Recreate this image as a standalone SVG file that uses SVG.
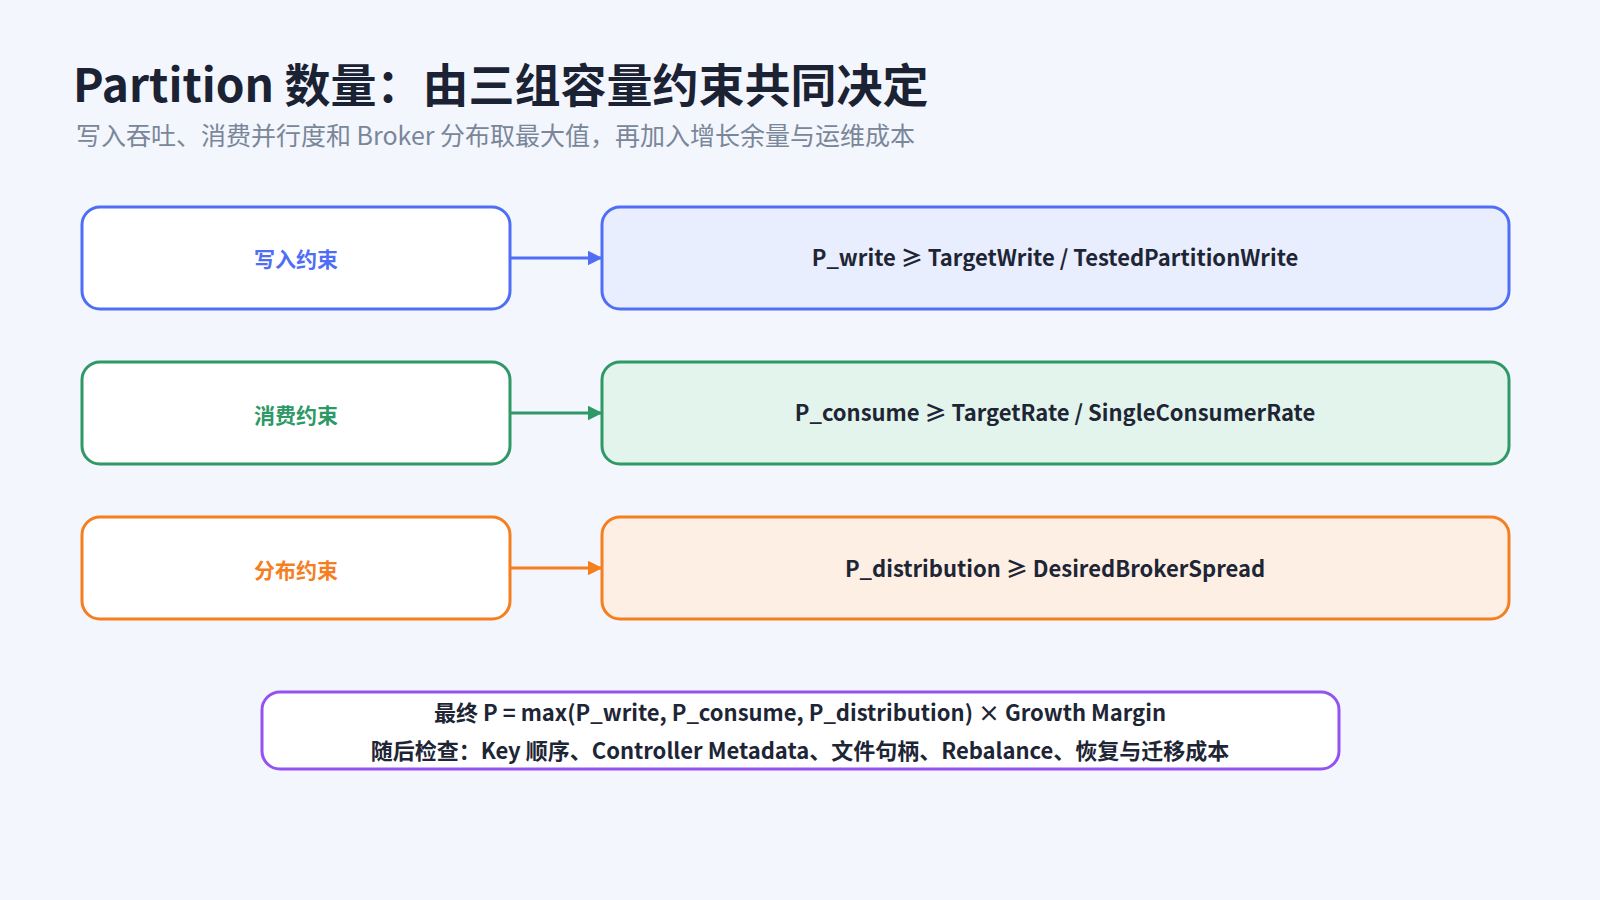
<svg xmlns="http://www.w3.org/2000/svg" width="1600" height="900" viewBox="0 0 1600 900">
<style>
.t{font-family:"Noto Sans CJK SC","Noto Sans",sans-serif}
.lbl{font-size:21px;font-weight:bold;text-anchor:middle}
.f{font-size:22px;font-weight:bold;fill:#1e2535;text-anchor:middle}
.ln{stroke-width:3}
</style>
<defs>
<marker id="ab" viewBox="0 0 10 10" refX="9" refY="5" markerWidth="5" markerHeight="5" orient="auto"><path d="M0,0L10,5L0,10z" fill="#4f6ef5"/></marker>
<marker id="ag" viewBox="0 0 10 10" refX="9" refY="5" markerWidth="5" markerHeight="5" orient="auto"><path d="M0,0L10,5L0,10z" fill="#2e9866"/></marker>
<marker id="ao" viewBox="0 0 10 10" refX="9" refY="5" markerWidth="5" markerHeight="5" orient="auto"><path d="M0,0L10,5L0,10z" fill="#f57e1f"/></marker>
</defs>
<rect width="1600" height="900" fill="#f3f6fd"/>
<text class="t" x="73" y="102" font-size="46" font-weight="bold" fill="#1a2233">Partition 数量：由三组容量约束共同决定</text>
<text class="t" x="76" y="145" font-size="25" fill="#7a8699">写入吞吐、消费并行度和 Broker 分布取最大值，再加入增长余量与运维成本</text>
<g id="connectors">
<line x1="510" y1="258" x2="601" y2="258" stroke="#4f6ef5" stroke-width="3" marker-end="url(#ab)"/>
<line x1="510" y1="413" x2="601" y2="413" stroke="#2e9866" stroke-width="3" marker-end="url(#ag)"/>
<line x1="510" y1="568" x2="601" y2="568" stroke="#f57e1f" stroke-width="3" marker-end="url(#ao)"/>
</g>
<g id="n1"><rect class="ln" x="82" y="207" width="428" height="102" rx="18" fill="#fff" stroke="#4f6ef5"/><text class="t lbl" x="296" y="267" fill="#4f6ef5">写入约束</text></g>
<g id="n2"><rect class="ln" x="602" y="207" width="907" height="102" rx="18" fill="#e8eefd" stroke="#4f6ef5"/><text class="t f" x="1055" y="266">P_write ≥ TargetWrite / TestedPartitionWrite</text></g>
<g id="n3"><rect class="ln" x="82" y="362" width="428" height="102" rx="18" fill="#fff" stroke="#2e9866"/><text class="t lbl" x="296" y="423" fill="#2e9866">消费约束</text></g>
<g id="n4"><rect class="ln" x="602" y="362" width="907" height="102" rx="18" fill="#e2f4eb" stroke="#2e9866"/><text class="t f" x="1055" y="421">P_consume ≥ TargetRate / SingleConsumerRate</text></g>
<g id="n5"><rect class="ln" x="82" y="517" width="428" height="102" rx="18" fill="#fff" stroke="#f57e1f"/><text class="t lbl" x="296" y="578" fill="#f57e1f">分布约束</text></g>
<g id="n6"><rect class="ln" x="602" y="517" width="907" height="102" rx="18" fill="#fdefe3" stroke="#f57e1f"/><text class="t f" x="1055" y="577">P_distribution ≥ DesiredBrokerSpread</text></g>
<g id="n7"><rect class="ln" x="262" y="692" width="1077" height="77" rx="18" fill="#fff" stroke="#9552f2"/>
<text class="t f" x="800" y="721">最终 P = max(P_write, P_consume, P_distribution) × Growth Margin</text>
<text class="t f" x="800" y="759">随后检查：Key 顺序、Controller Metadata、文件句柄、Rebalance、恢复与迁移成本</text></g>
</svg>
